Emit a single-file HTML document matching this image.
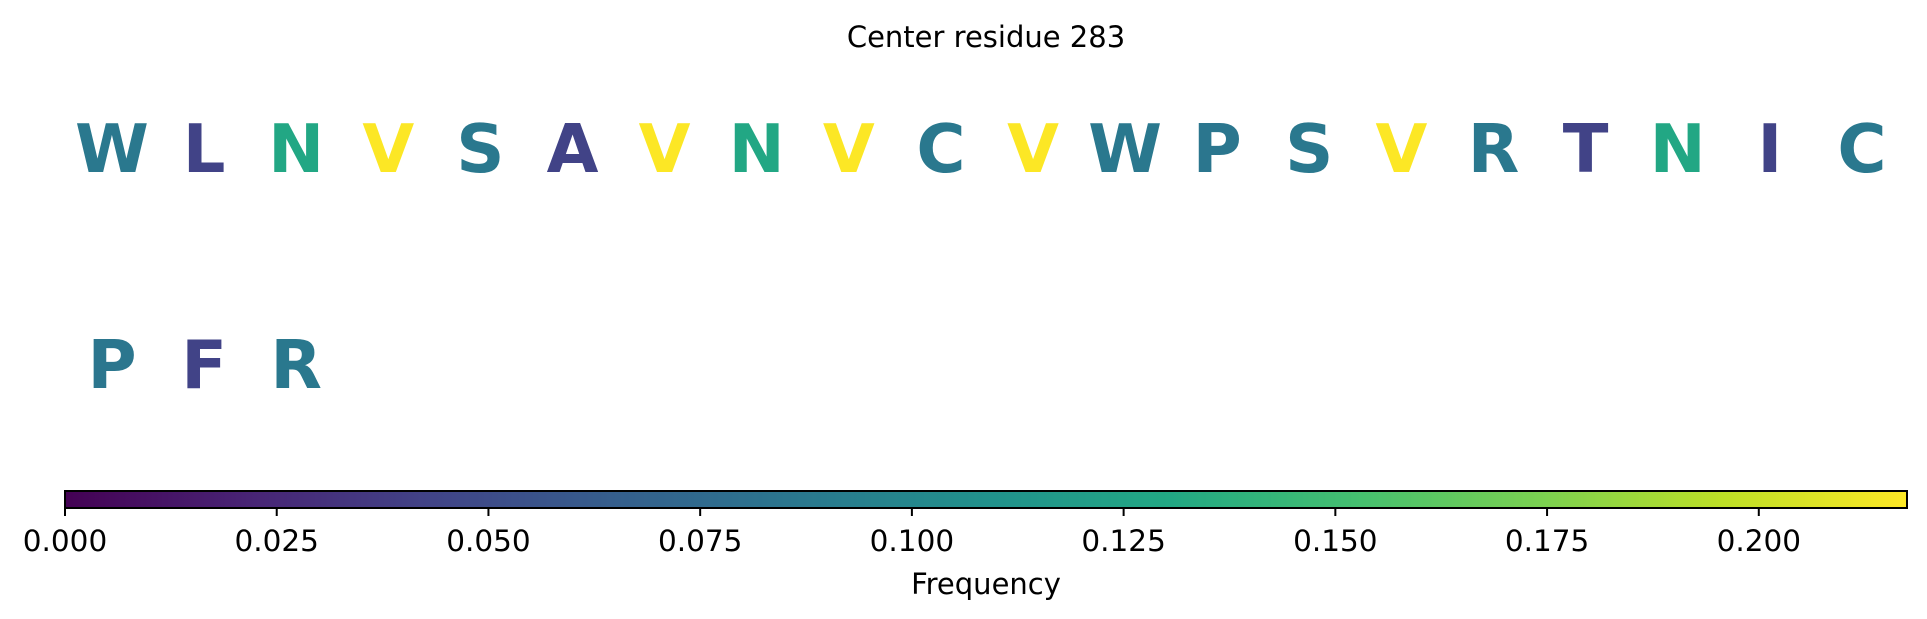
<!DOCTYPE html>
<html><head><meta charset="utf-8"><style>
html,body{margin:0;padding:0;background:#fff;}
svg{display:block;font-family:"DejaVu Sans","Liberation Sans",sans-serif;}
</style></head><body>
<svg id="chart" width="1927" height="619" viewBox="0 0 1927 619">
<defs>
<linearGradient id="viridis" x1="0" x2="1" y1="0" y2="0">
<stop offset="0" stop-color="#440154"/><stop offset="0.1" stop-color="#482475"/><stop offset="0.2" stop-color="#414487"/><stop offset="0.3" stop-color="#355f8d"/><stop offset="0.4" stop-color="#2a788e"/><stop offset="0.5" stop-color="#21918c"/><stop offset="0.6" stop-color="#22a884"/><stop offset="0.7" stop-color="#44bf70"/><stop offset="0.8" stop-color="#7ad151"/><stop offset="0.9" stop-color="#bddf26"/><stop offset="1" stop-color="#fde725"/>
</linearGradient>
</defs>
<text x="986" y="47" text-anchor="middle" font-size="29" fill="#000">Center residue 283</text>
<g id="letters"></g>
<rect x="65" y="491" width="1842" height="17" fill="url(#viridis)" stroke="#000" stroke-width="2"/>
<g id="ticks"></g>
<text x="986" y="594" text-anchor="middle" font-size="29" fill="#000">Frequency</text>
</svg>
<script>
const residues = ["W","L","N","V","S","A","V","N","V","C","V","W","P","S","V","R","T","N","I","C","P","F","R"];
const frequencies = [0.087,0.043,0.130,0.217,0.087,0.043,0.217,0.130,0.217,0.087,0.217,0.087,0.085,0.087,0.217,0.087,0.043,0.130,0.043,0.087,0.085,0.043,0.087];
const tickValues = [0,0.025,0.05,0.075,0.1,0.125,0.15,0.175,0.2];
const tickLabels = ["0.000","0.025","0.050","0.075","0.100","0.125","0.150","0.175","0.200"];
const vmin = 0, vmax = 0.2175;
const NS = "http://www.w3.org/2000/svg";
const cbX0 = 65, cbX1 = 1907;
function xScale(v){ return cbX0 + (v - vmin) / (vmax - vmin) * (cbX1 - cbX0); }
const vir = ["#440154","#482475","#414487","#355f8d","#2a788e","#21918c","#22a884","#44bf70","#7ad151","#bddf26","#fde725"];
function hex(h){return [1,3,5].map(i=>parseInt(h.substr(i,2),16));}
function color(v){
  let t = Math.max(0, Math.min(1, (v - vmin) / (vmax - vmin))) * 10;
  let i = Math.min(9, Math.floor(t)), f = t - i;
  let a = hex(vir[i]), b = hex(vir[i+1]);
  return "rgb(" + a.map((c,k)=>Math.round(c + (b[k]-c)*f)).join(",") + ")";
}
const perRow = 20, colX0 = 112, colStep = 92.1, rowBase = [172, 388];
const lg = document.getElementById("letters");
residues.forEach((r, i) => {
  const t = document.createElementNS(NS, "text");
  t.setAttribute("x", colX0 + (i % perRow) * colStep);
  t.setAttribute("y", rowBase[Math.floor(i / perRow)]);
  t.setAttribute("text-anchor", "middle");
  t.setAttribute("font-size", "67");
  t.setAttribute("font-weight", "bold");
  t.setAttribute("fill", color(frequencies[i]));
  
  
  t.textContent = r;
  lg.appendChild(t);
});
const tg = document.getElementById("ticks");
tickValues.forEach((v, i) => {
  const x = xScale(v);
  const l = document.createElementNS(NS, "line");
  l.setAttribute("x1", x); l.setAttribute("x2", x);
  l.setAttribute("y1", 508); l.setAttribute("y2", 516);
  l.setAttribute("stroke", "#000"); l.setAttribute("stroke-width", "2");
  
  
  tg.appendChild(l);
  const t = document.createElementNS(NS, "text");
  t.setAttribute("x", x); t.setAttribute("y", 551);
  t.setAttribute("text-anchor", "middle");
  t.setAttribute("font-size", "29.5");
  
  
  t.textContent = tickLabels[i];
  tg.appendChild(t);
});
</script>
</body></html>
